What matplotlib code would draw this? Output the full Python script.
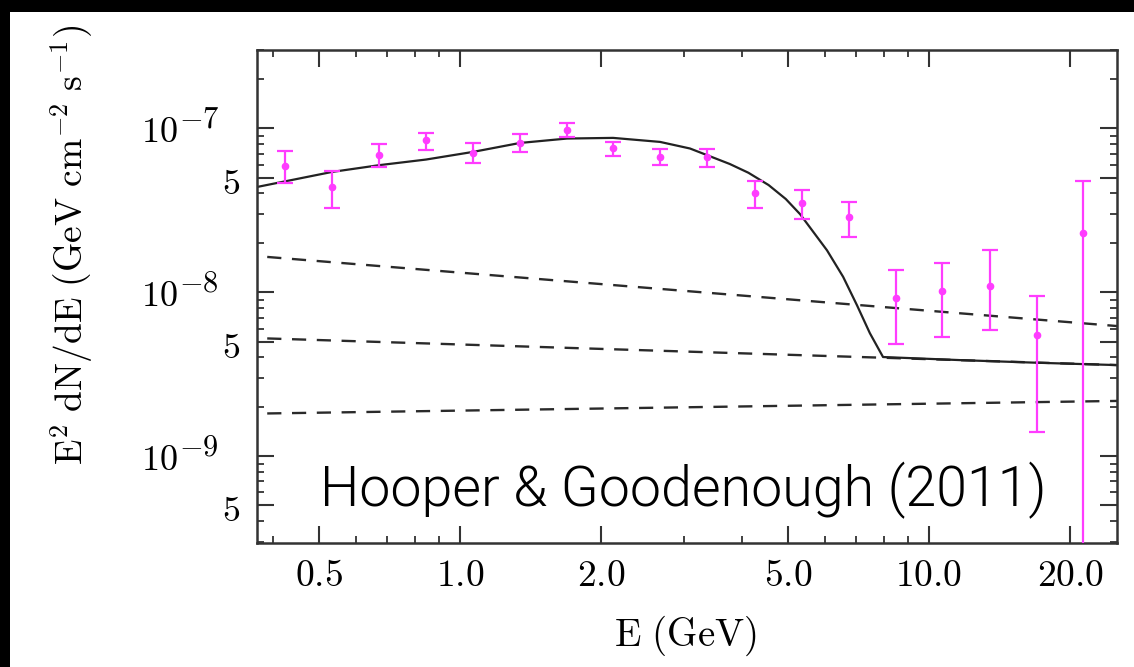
import numpy as np
import matplotlib
matplotlib.use("Agg")
from matplotlib import pyplot as plt
from matplotlib import transforms
from matplotlib.patches import Rectangle
from matplotlib.ticker import FixedLocator, FixedFormatter, NullFormatter

plt.rcParams['mathtext.fontset'] = 'cm'

# Fermi-LAT inner galaxy spectrum (GeV, GeV cm^-2 s^-1)
energy = [0.424, 0.533, 0.672, 0.846, 1.066, 1.342, 1.690, 2.119, 2.670,
          3.363, 4.254, 5.36, 6.75, 8.50, 10.66, 13.49, 17.0, 21.3]
flux = [5.89e-8, 4.38e-8, 6.84e-8, 8.45e-8, 7.06e-8, 8.18e-8, 9.82e-8, 7.59e-8, 6.68e-8,
        6.68e-8, 4.03e-8, 3.51e-8, 2.88e-8, 9.16e-9, 1.02e-8, 1.09e-8, 5.47e-9, 2.31e-8]
flux_hi = [7.24e-8, 5.49e-8, 7.96e-8, 9.36e-8, 8.07e-8, 9.16e-8, 1.077e-7, 8.25e-8, 7.52e-8,
           7.52e-8, 4.75e-8, 4.19e-8, 3.56e-8, 1.36e-8, 1.51e-8, 1.80e-8, 9.48e-9, 4.75e-8]
flux_lo = [4.62e-8, 3.25e-8, 5.81e-8, 7.34e-8, 6.10e-8, 7.17e-8, 8.78e-8, 6.75e-8, 5.94e-8,
           5.81e-8, 3.28e-8, 2.81e-8, 2.17e-8, 4.82e-9, 5.30e-9, 5.86e-9, 1.41e-9, 1.0e-10]

# total model (background + dark matter)
model_e = [0.369, 0.533, 0.672, 0.846, 1.066, 1.342, 1.691, 2.120, 2.670, 3.093, 3.363,
           3.76, 4.12, 4.55, 4.95, 5.31, 6.06, 6.56, 7.02, 7.48, 7.98, 11.65, 17.0, 25.17]
model_f = [4.38e-8, 5.41e-8, 5.95e-8, 6.44e-8, 7.17e-8, 8.13e-8, 8.65e-8, 8.73e-8, 8.25e-8,
           7.52e-8, 6.85e-8, 6.05e-8, 5.35e-8, 4.50e-8, 3.70e-8, 2.99e-8, 1.80e-8, 1.24e-8,
           8.33e-9, 5.62e-9, 4.02e-9, 3.85e-9, 3.71e-9, 3.59e-9]

# power-law components
comp_e = [0.388, 25.2]
comp_top = [1.64e-8, 6.21e-9]
comp_mid = [5.22e-9, 3.59e-9]
comp_low = [1.82e-9, 2.17e-9]

x_major = [0.5, 1.0, 2.0, 5.0, 10.0, 20.0]
x_labels = ['0.5', '1.0', '2.0', '5.0', '10.0', '20.0']
y_decades = [1e-9, 1e-8, 1e-7]
y_exps = ['-9', '-8', '-7']
y_fives = [5e-10, 5e-9, 5e-8]

fig = plt.figure(figsize=(11.34, 6.67), dpi=100, facecolor='black')
fig.patches.append(Rectangle((10 / 1134, 0), 1, (667 - 12) / 667, transform=fig.transFigure,
                             facecolor='white', edgecolor='none', zorder=-1))
ax = fig.add_axes([257 / 1134, (667 - 543) / 667, (1117 - 257) / 1134, (543 - 50) / 667])
ax.set_xscale('log')
ax.set_yscale('log')
ax.set_xlim(0.369, 25.17)
ax.set_ylim(2.95e-10, 3.0e-7)

dash = (0, (6, 4.5))
for comp in (comp_top, comp_mid, comp_low):
    ax.plot(comp_e, comp, color='#2a2a2a', lw=1.7, linestyle=dash)
ax.plot(model_e, model_f, color='#222222', lw=1.6)

fl = np.array(flux)
yerr = [fl - np.array(flux_lo), np.array(flux_hi) - fl]
ax.errorbar(energy, flux, yerr=yerr, fmt='o', color='#ff3cff', ms=4.5, elinewidth=1.6,
            capsize=6, capthick=1.6, zorder=3)

ax.xaxis.set_major_locator(FixedLocator(x_major))
ax.xaxis.set_major_formatter(FixedFormatter(['$%s$' % s for s in x_labels]))
x_minor = [0.4, 0.6, 0.7, 0.8, 0.9, 3, 4, 6, 7, 8, 9]
ax.xaxis.set_minor_locator(FixedLocator(x_minor))
ax.xaxis.set_minor_formatter(NullFormatter())

ax.yaxis.set_major_locator(FixedLocator(sorted(y_decades + y_fives)))
ax.yaxis.set_major_formatter(NullFormatter())
y_minor = [m * 10.0 ** k for k in (-10, -9, -8, -7) for m in (2, 3, 4, 6, 7, 8, 9)]
ax.yaxis.set_minor_locator(FixedLocator(y_minor))
ax.yaxis.set_minor_formatter(NullFormatter())

ax.tick_params(which='both', direction='in', top=True, right=True, color='#333333')
ax.tick_params(which='major', length=12, width=1.5)
ax.tick_params(axis='x', which='major', pad=11, labelsize=27)
ax.tick_params(which='minor', length=5, width=1.3)
for sp in ax.spines.values():
    sp.set_linewidth(1.8)
    sp.set_color('#333333')

# y tick labels with big exponents
ytrans = transforms.blended_transform_factory(ax.transAxes, ax.transData)
for v, e in zip(y_decades, y_exps):
    t1 = transforms.offset_copy(ytrans, fig=fig, x=-79, y=-14, units='dots')
    ax.text(0, v, r'$10$', transform=t1, fontsize=26, ha='right', va='baseline')
    t2 = transforms.offset_copy(ytrans, fig=fig, x=-78, y=1, units='dots')
    ax.text(0, v, r'$%s$' % e, transform=t2, fontsize=22, ha='left', va='baseline')
for v in y_fives:
    t3 = transforms.offset_copy(ytrans, fig=fig, x=-17, y=-16, units='dots')
    ax.text(0, v, r'$5$', transform=t3, fontsize=26, ha='right', va='baseline')

fig.text(686 / 1134, (667 - 636) / 667, r'$\mathrm{E\ (GeV)}$', fontsize=28,
         ha='center', va='center')
fig.text(72 / 1134, (667 - 245) / 667, r'$\mathrm{E^2\ dN/dE\ (GeV\ cm^{-2}\ s^{-1})}$',
         fontsize=27, rotation=90, ha='center', va='center')

fig.text(320 / 1134, (667 - 506) / 667, 'Hooper & Goodenough (2011)',
         fontsize=40, family='Roboto', weight=300, color='black', ha='left', va='baseline')

fig.savefig('out.png', dpi=100, facecolor=fig.get_facecolor())
